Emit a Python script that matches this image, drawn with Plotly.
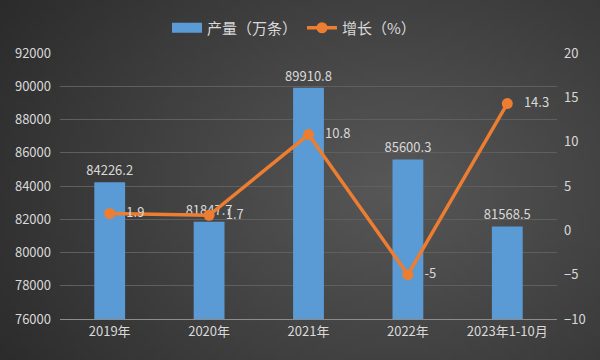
import base64, struct, zlib
import plotly.graph_objects as go

categories = ["2019年", "2020年", "2021年", "2022年", "2023年1-10月"]
output_values = [84226.2, 81847.7, 89910.8, 85600.3, 81568.5]
growth_values = [1.9, 1.7, 10.8, -5, 14.3]
left_ticks = list(range(76000, 92001, 2000))
right_ticks = list(range(-10, 21, 5))


def gradient_png(w=120, h=72):
    rows = []
    cx, cy = 0.62, 0.5
    for j in range(h):
        row = bytearray([0])
        for i in range(w):
            dx = (i / (w - 1) - cx) * 1.0
            dy = (j / (h - 1) - cy) * 0.8
            d = min(1.0, (dx * dx + dy * dy) ** 0.5 / 0.72)
            v = int(88 - (88 - 40) * d)
            row += bytes([v, v, v])
        rows.append(bytes(row))
    raw = b"".join(rows)

    def chunk(t, data):
        c = struct.pack(">I", len(data)) + t + data
        return c + struct.pack(">I", zlib.crc32(t + data) & 0xFFFFFFFF)

    png = b"\x89PNG\r\n\x1a\n"
    png += chunk(b"IHDR", struct.pack(">IIBBBBB", w, h, 8, 2, 0, 0, 0))
    png += chunk(b"IDAT", zlib.compress(raw, 9))
    png += chunk(b"IEND", b"")
    return "data:image/png;base64," + base64.b64encode(png).decode()


FONT = "Noto Sans CJK SC"
TXT = "#d9d9d9"
BLUE = "#5b9bd5"
ORANGE = "#ed7d31"

fig = go.Figure()
fig.add_trace(go.Bar(
    x=categories, y=output_values, name="产量（万条）", showlegend=False,
    marker=dict(color=BLUE, line=dict(width=0)),
    width=0.31,
    text=[f"{v:.1f}" for v in output_values], textposition="outside",
    textfont=dict(color=TXT, size=13, family=FONT),
    constraintext="none", cliponaxis=False,
))
# legend swatch for the bars
fig.add_trace(go.Scatter(
    x=[None], y=[None], name="产量（万条）", mode="lines",
    line=dict(color=BLUE, width=10),
))
fig.add_trace(go.Scatter(
    x=categories, y=growth_values, name="增长（%）", yaxis="y2",
    mode="lines+markers+text",
    line=dict(color=ORANGE, width=3.5),
    marker=dict(color=ORANGE, size=11),
    text=[f"   {v:g}" for v in growth_values], textposition="middle right",
    textfont=dict(color=TXT, size=13, family=FONT),
    cliponaxis=False,
))

fig.update_layout(
    width=600, height=360,
    margin=dict(l=60, r=43, t=53, b=41, autoexpand=False),
    paper_bgcolor="#3a3a3a", plot_bgcolor="rgba(0,0,0,0)",
    font=dict(family=FONT, color=TXT, size=13),
    images=[dict(source=gradient_png(), xref="paper", yref="paper",
                 x=-0.2, y=1.3, sizex=1.4, sizey=1.6, sizing="stretch",
                 xanchor="left", yanchor="top", layer="below")],
    legend=dict(orientation="h", x=0.49, xref="container", xanchor="center",
                y=1 - 28 / 360, yref="container", yanchor="middle",
                font=dict(size=15, color=TXT, family=FONT), bgcolor="rgba(0,0,0,0)"),
    showlegend=True,
    xaxis=dict(showgrid=False, showline=True, linecolor="#8c8c8c", linewidth=1,
               ticks="", tickfont=dict(size=13, color=TXT)),
    yaxis=dict(range=[76000, 92000], tickvals=left_ticks, tickformat="d", showgrid=True,
               gridcolor="#5f5f5f", gridwidth=1, zeroline=False,
               ticks="", tickfont=dict(size=13, color=TXT), ticklabelstandoff=8),
    yaxis2=dict(range=[-10, 20], tickvals=right_ticks, overlaying="y", side="right",
                showgrid=False, zeroline=False, ticks="",
                tickfont=dict(size=13, color=TXT), ticklabelstandoff=6),
)

fig.write_html("out.html", config={"displayModeBar": False},
               post_script="document.body.style.margin='0';")
